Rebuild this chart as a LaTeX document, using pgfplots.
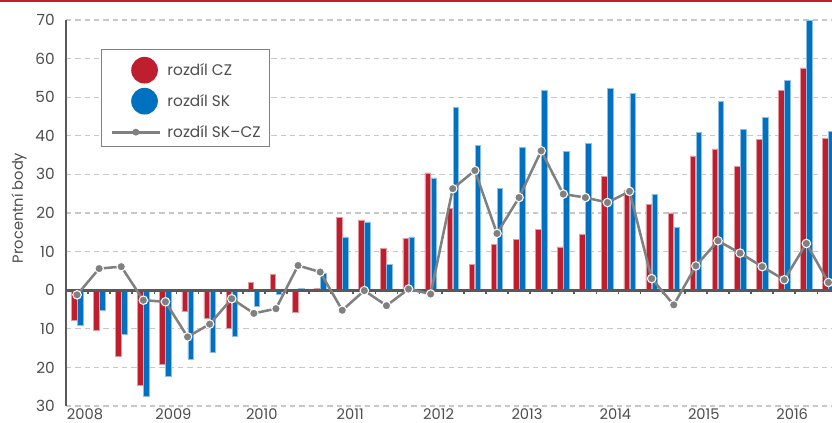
\documentclass[border=0pt]{standalone}
\usepackage{fontspec}
\setmainfont{Poppins}
\usepackage{pgfplots}
\usepackage{pgfplotstable}
\pgfplotsset{compat=1.18}

\definecolor{czred}{HTML}{BE1E2D}
\definecolor{skblue}{HTML}{0070C0}
\definecolor{diffgray}{HTML}{808080}
\definecolor{axisgray}{HTML}{595959}
\definecolor{txtgray}{HTML}{4D4D4D}
\definecolor{gridgray}{HTML}{C8C8C8}

% quarters 2008Q1 .. 2016Q3, values in percentage points
\pgfplotstableread{
q  cz    sk    diff
0  -7.8  -9.1  -1.2
1  -10.4 -5.1  5.6
2  -17.1 -11.3 6.1
3  -24.6 -27.4 -2.6
4  -19.3 -22.4 -3.0
5  -5.5  -17.8 -12.1
6  -7.3  -16.2 -8.8
7  -9.8  -11.9 -2.2
8  2.0   -4.2  -6.0
9  4.0   -1.0  -4.8
10 -5.7  0.5   6.4
11 0.4   4.5   4.7
12 18.9  13.8  -5.2
13 18.2  17.7  -0.1
14 10.9  6.6   -4.0
15 13.4  13.8  0.3
16 30.4  29.1  -1.0
17 21.1  47.3  26.3
18 6.6   37.5  31.0
19 11.9  26.4  14.7
20 13.2  36.9  24.0
21 15.7  51.8  36.1
22 11.2  35.9  24.9
23 14.4  38.1  24.0
24 29.5  52.3  22.7
25 25.8  51.0  25.6
26 22.2  24.9  3.0
27 20.0  16.2  -3.8
28 34.8  40.9  6.3
29 36.6  48.9  12.8
30 32.0  41.6  9.6
31 39.1  44.8  6.1
32 51.8  54.3  2.7
33 57.6  69.9  12.1
34 39.3  41.1  2.0
}\datatable

\begin{document}
\begin{tikzpicture}
\path[use as bounding box] (0,0) rectangle (624pt,317.25pt);
\fill[czred] (0,316pt) rectangle (624pt,317.25pt);
\begin{axis}[
    at={(49.5pt,12.75pt)}, anchor=south west,
    scale only axis,
    width=574.5pt, height=289.5pt,
    xmin=-0.5, xmax=34.16,
    ymin=-30, ymax=70,
    axis x line*=bottom, axis y line*=left,
    x axis line style={draw=none},
    y axis line style={draw=axisgray, line width=2pt},
    xtick={0.36,4.36,8.36,12.36,16.36,20.36,24.36,28.36,32.36},
    xticklabels={2008,2009,2010,2011,2012,2013,2014,2015,2016},
    ytick={-30,-20,-10,0,10,20,30,40,50,60,70},
    yticklabels={30,20,10,0,10,20,30,40,50,60,70},
    major tick length=0pt,
    /pgf/number format/assume math mode=true,
    tick label style={font=\fontsize{11.5}{13}\selectfont, text=txtgray},
    xticklabel style={anchor=north, inner sep=0pt, yshift=-1.5pt,
        font=\fontsize{11}{12}\selectfont},
    yticklabel style={anchor=east, inner sep=0pt, xshift=-8.25pt},
    ymajorgrids,
    major grid style={gridgray, line width=1pt, dash pattern=on 4pt off 3pt},
    ylabel={Procentní body},
    ylabel style={at={(axis description cs:-0.0614,0.513)}, anchor=center,
        font=\fontsize{11}{13}\selectfont, text=txtgray},
    legend style={at={(rel axis cs:0.0457,0.9249)}, anchor=north west,
        draw=diffgray, line width=0.8pt, fill=white,
        inner xsep=6.75pt, inner ysep=5.5pt, row sep=3.25pt, column sep=4.9pt,
        font=\fontsize{11.5}{13}\selectfont, text=txtgray,
        nodes={inner sep=0pt}, cells={anchor=west}},
    clip=true,
]
\addplot[ybar, bar width=4.1pt, bar shift=-2.25pt, fill=czred,
    draw=czred!45!white, line width=0.4pt, forget plot]
    table[x=q, y=cz] {\datatable};
\addplot[ybar, bar width=4.1pt, bar shift=2.25pt, fill=skblue,
    draw=skblue!45!white, line width=0.4pt, forget plot]
    table[x=q, y=sk] {\datatable};

\draw[axisgray, line width=2pt] (axis cs:-0.5,0) -- (axis cs:34.16,0);
\pgfplotsinvokeforeach{0.5,1.5,...,33.5}{
    \draw[axisgray, line width=1.3pt] (axis cs:#1,0) -- (axis cs:#1,-1.1);
}

\addplot[diffgray, line width=1.9pt, mark=*, mark size=3.2pt,
    mark options={fill=diffgray, draw=white, line width=0.8pt}, forget plot]
    table[x=q, y=diff] {\datatable};

\addlegendimage{legend image code/.code={
    \path[draw=none, fill=none] (0pt,-10pt) rectangle (35.8pt,10pt);
    \fill[czred, draw=none] (24.5pt,0pt) circle (10pt);}}
\addlegendentry{rozdíl CZ}
\addlegendimage{legend image code/.code={
    \path[draw=none, fill=none] (0pt,-10pt) rectangle (35.8pt,10pt);
    \fill[skblue, draw=none] (24.5pt,0pt) circle (10pt);}}
\addlegendentry{rozdíl SK}
\addlegendimage{legend image code/.code={
    \path[draw=none, fill=none] (0pt,-4pt) rectangle (35.8pt,10pt);
    \draw[diffgray, line width=2pt] (0pt,0pt) -- (35.8pt,0pt);
    \fill[diffgray, draw=none] (18pt,0pt) circle (2.6pt);}}
\addlegendentry{rozdíl SK–CZ}
\end{axis}
\end{tikzpicture}
\end{document}
